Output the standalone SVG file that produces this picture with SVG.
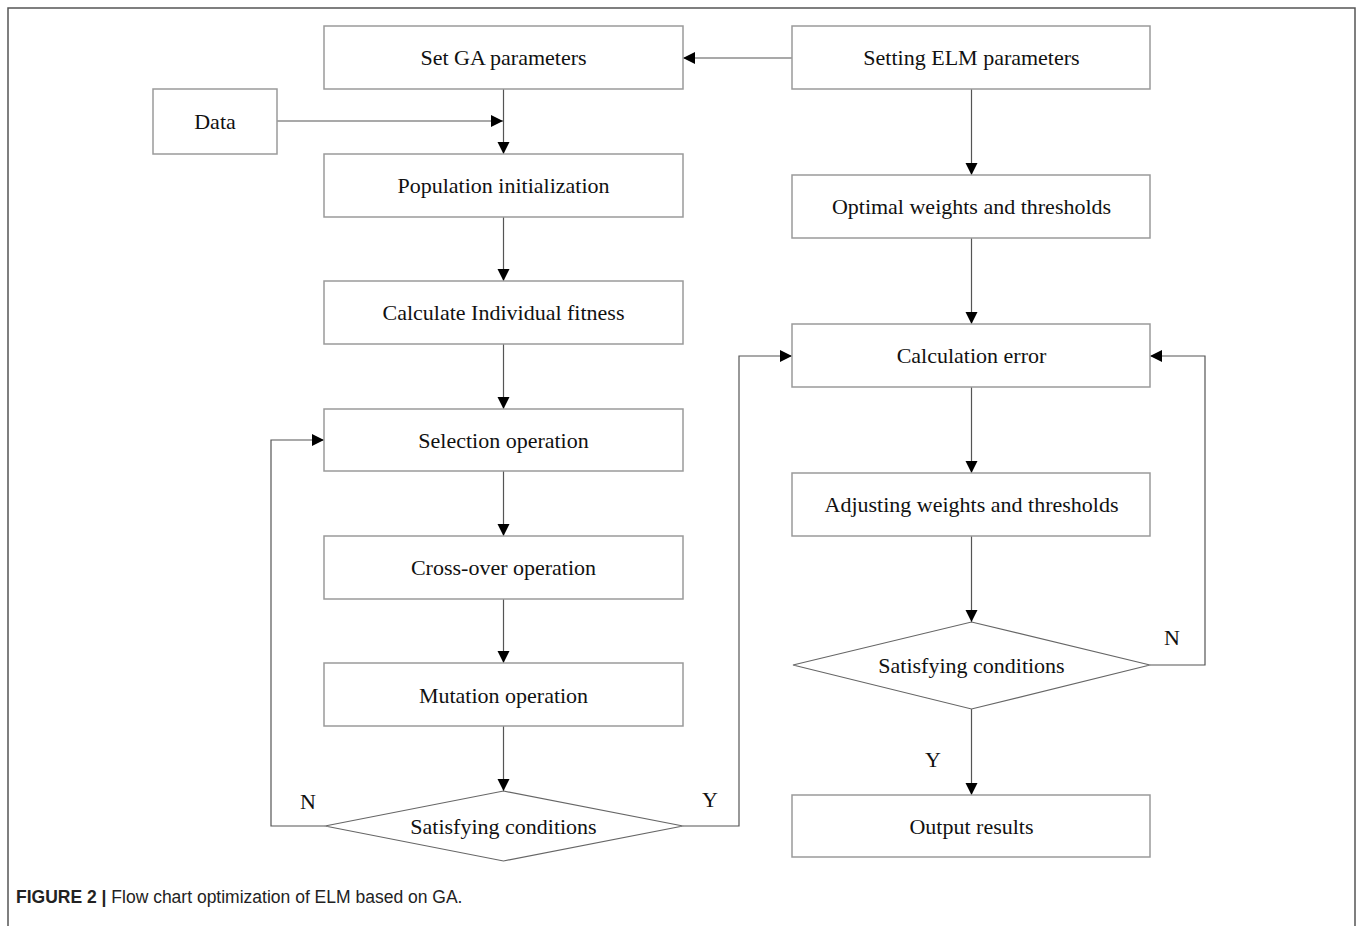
<svg xmlns="http://www.w3.org/2000/svg" width="1358" height="926" viewBox="0 0 1358 926">
<defs>
<marker id="ah" markerUnits="userSpaceOnUse" markerWidth="14" markerHeight="14" refX="12" refY="6" orient="auto">
<path d="M0,0 L12,6 L0,12 Z" fill="#000"/>
</marker>
<style>
.box{fill:#fff;stroke:#9a9a9a;stroke-width:1.5}
.dia{fill:#fff;stroke:#666;stroke-width:1.2}
.t{font-family:"Liberation Serif","Times New Roman",serif;font-size:22px;fill:#111;text-anchor:middle}
.lb{font-family:"Liberation Serif","Times New Roman",serif;font-size:22px;fill:#111}
.c{fill:none;stroke:#555;stroke-width:1.2}
.ca{fill:none;stroke:#555;stroke-width:1.2;marker-end:url(#ah)}
.cap{font-family:"Liberation Sans",Arial,sans-serif;font-size:17.5px;fill:#222}
</style>
</defs>
<rect width="1358" height="926" fill="#fff"/>
<path d="M8,926 V8 H1355 V926" fill="none" stroke="#555" stroke-width="1.5"/>
<g id="connectors">
<path class="ca" d="M792,58 H683"/>
<path class="ca" d="M277,121 H503"/>
<path class="ca" d="M503.5,89 V154"/>
<path class="ca" d="M503.5,217 V281"/>
<path class="ca" d="M503.5,344 V409"/>
<path class="ca" d="M503.5,471 V536"/>
<path class="ca" d="M503.5,599 V663"/>
<path class="ca" d="M503.5,726 V791"/>
<path class="ca" d="M325,826 H271 V440 H324"/>
<path class="ca" d="M683,826 H739 V356 H792"/>
<path class="ca" d="M971.5,89 V175"/>
<path class="ca" d="M971.5,238 V324"/>
<path class="ca" d="M971.5,387 V473"/>
<path class="ca" d="M971.5,536 V622"/>
<path class="ca" d="M971.5,709 V795"/>
<path class="ca" d="M1150,665 H1205 V356 H1150"/>
<text class="lb" x="300" y="809">N</text>
<text class="lb" x="702" y="807">Y</text>
<text class="lb" x="1164" y="645">N</text>
<text class="lb" x="925" y="767">Y</text>
</g>
<g id="set-ga"><rect class="box" x="324" y="26" width="359" height="63"/><text class="t" x="503.5" y="65">Set GA parameters</text></g>
<g id="data"><rect class="box" x="153" y="89" width="124" height="65"/><text class="t" x="215" y="129">Data</text></g>
<g id="pop-init"><rect class="box" x="324" y="154" width="359" height="63"/><text class="t" x="503.5" y="193">Population initialization</text></g>
<g id="calc-fitness"><rect class="box" x="324" y="281" width="359" height="63"/><text class="t" x="503.5" y="320">Calculate Individual fitness</text></g>
<g id="selection"><rect class="box" x="324" y="409" width="359" height="62"/><text class="t" x="503.5" y="448">Selection operation</text></g>
<g id="crossover"><rect class="box" x="324" y="536" width="359" height="63"/><text class="t" x="503.5" y="575">Cross-over operation</text></g>
<g id="mutation"><rect class="box" x="324" y="663" width="359" height="63"/><text class="t" x="503.5" y="703">Mutation operation</text></g>
<g id="cond-left"><polygon class="dia" points="503.5,791 683,826 503.5,861 325,826"/><text class="t" x="503.5" y="834">Satisfying conditions</text></g>
<g id="set-elm"><rect class="box" x="792" y="26" width="358" height="63"/><text class="t" x="971.5" y="65">Setting ELM parameters</text></g>
<g id="optimal"><rect class="box" x="792" y="175" width="358" height="63"/><text class="t" x="971.5" y="214">Optimal weights and thresholds</text></g>
<g id="calc-error"><rect class="box" x="792" y="324" width="358" height="63"/><text class="t" x="971.5" y="363">Calculation error</text></g>
<g id="adjusting"><rect class="box" x="792" y="473" width="358" height="63"/><text class="t" x="971.5" y="512">Adjusting weights and thresholds</text></g>
<g id="cond-right"><polygon class="dia" points="971.5,622 1150,665 971.5,709 793,665"/><text class="t" x="971.5" y="673">Satisfying conditions</text></g>
<g id="output"><rect class="box" x="792" y="795" width="358" height="62"/><text class="t" x="971.5" y="834">Output results</text></g>
<text class="cap" x="16" y="903"><tspan font-weight="bold">FIGURE 2 |</tspan> Flow chart optimization of ELM based on GA.</text>
</svg>
